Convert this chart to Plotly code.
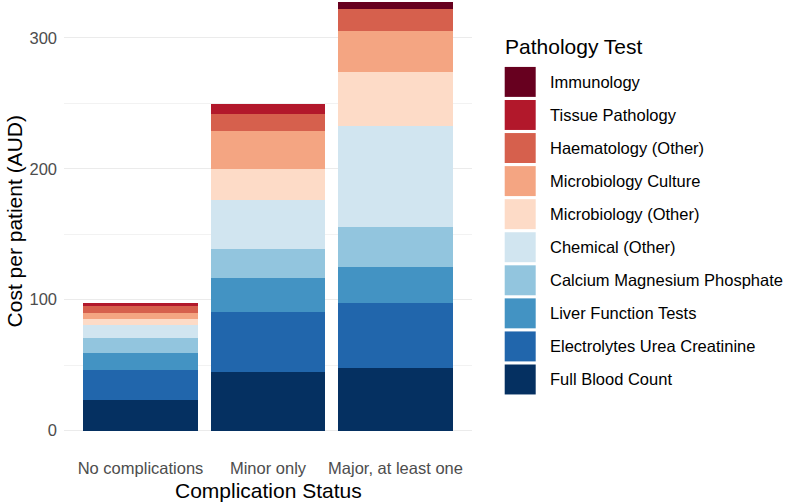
import plotly.graph_objects as go

# ---- data ----
categories = ["No complications", "Minor only", "Major, at least one"]

tests = [
    "Full Blood Count",
    "Electrolytes Urea Creatinine",
    "Liver Function Tests",
    "Calcium Magnesium Phosphate",
    "Chemical (Other)",
    "Microbiology (Other)",
    "Microbiology Culture",
    "Haematology (Other)",
    "Tissue Pathology",
    "Immunology",
]

full_blood_count = [23.3, 44.9, 47.5]
electrolytes = [22.9, 45.8, 49.6]
liver_function = [12.7, 25.5, 27.5]
calcium_mg_phos = [12.2, 22.9, 31.0]
chemical_other = [9.2, 37.4, 76.8]
micro_other = [4.8, 23.7, 41.5]
micro_culture = [4.8, 28.7, 31.3]
haem_other = [5.1, 13.2, 17.1]
tissue_path = [2.1, 7.1, 0.0]
immunology = [0.0, 0.0, 5.3]

series = [full_blood_count, electrolytes, liver_function, calcium_mg_phos,
          chemical_other, micro_other, micro_culture, haem_other,
          tissue_path, immunology]

colors = ["#053061", "#2166ac", "#4393c3", "#92c5de", "#d1e5f0",
          "#fddbc7", "#f4a582", "#d6604d", "#b2182b", "#67001f"]

y_ticks = [0, 100, 200, 300]

# ---- layout geometry (pixels) ----
W, H = 787, 504
ML, MR, MT, MB = 64.3, W - 472.3, 0, 504 - 452.5
PW = W - ML - MR
PH = H - MT - MB

def px_x(px):
    return (px - ML) / PW

def px_y(py):
    return (H - MB - py) / PH

fig = go.Figure()
for name, vals, col in zip(tests, series, colors):
    fig.add_trace(go.Bar(
        x=categories, y=vals, name=name,
        marker=dict(color=col, line=dict(width=0)),
        showlegend=False,
    ))

font_family = "Liberation Sans, Arial, sans-serif"

fig.update_layout(
    width=W, height=H,
    margin=dict(l=ML, r=MR, t=MT, b=MB),
    barmode="stack",
    bargap=0.1,
    plot_bgcolor="white",
    paper_bgcolor="white",
    font=dict(family=font_family, size=16.5, color="#4d4d4d"),
    xaxis=dict(
        type="category",
        range=[-0.6, 2.6],
        showgrid=False,
        zeroline=False,
        showline=False,
        ticks="",
        ticklabelstandoff=4,
        tickfont=dict(size=16.5, color="#4d4d4d"),
    ),
    yaxis=dict(
        range=[-16.4, 329.0],
        tickvals=y_ticks,
        showgrid=True,
        gridcolor="#ebebeb",
        gridwidth=1.1,
        zeroline=False,
        showline=False,
        ticks="",
        ticklabelstandoff=6,
        tickfont=dict(size=16.5, color="#4d4d4d"),
        minor=dict(tickvals=[50, 150, 250], showgrid=True,
                   gridcolor="#f2f2f2", gridwidth=0.6),
    ),
)

annotations = [
    dict(text="Complication Status", x=px_x(268.3), y=px_y(491),
         xref="paper", yref="paper", showarrow=False,
         font=dict(size=21, color="black"), xanchor="center", yanchor="middle"),
    dict(text="Cost per patient (AUD)", x=px_x(15), y=px_y(222),
         xref="paper", yref="paper", showarrow=False, textangle=-90,
         font=dict(size=21, color="black"), xanchor="center", yanchor="middle"),
    dict(text="Pathology Test", x=px_x(503), y=px_y(47),
         xref="paper", yref="paper", showarrow=False,
         font=dict(size=21, color="black"), xanchor="left", yanchor="middle"),
]

shapes = []
legend_order = list(zip(tests, colors))[::-1]
row0, pitch = 82.0, 33.1
for i, (name, col) in enumerate(legend_order):
    cy = row0 + i * pitch
    shapes.append(dict(type="rect", xref="paper", yref="paper",
                       x0=px_x(505), x1=px_x(536),
                       y0=px_y(cy + 15), y1=px_y(cy - 15),
                       fillcolor=col, line=dict(width=0)))
    annotations.append(dict(text=name, x=px_x(548), y=px_y(cy),
                            xref="paper", yref="paper", showarrow=False,
                            font=dict(size=16.5, color="black"),
                            xanchor="left", yanchor="middle"))

fig.update_layout(annotations=annotations, shapes=shapes)

fig.write_html(
    "out.html",
    config={"displayModeBar": False},
    post_script="document.body.style.margin='0';document.body.style.overflow='hidden';",
)
